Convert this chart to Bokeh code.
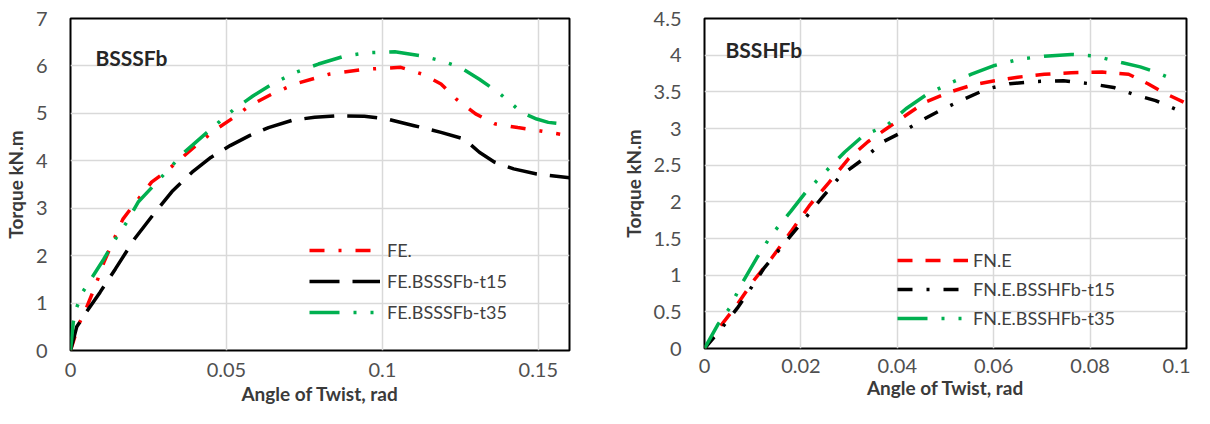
from bokeh.plotting import figure
from bokeh.layouts import row
from bokeh.models import Range1d, FixedTicker, Legend, LegendItem, Label
from bokeh.embed import file_html
from bokeh.resources import INLINE

# ---------------- Left chart data (BSSSFb) ----------------
left_title = "BSSSFb"
left_xticks = [0, 0.05, 0.1, 0.15]
left_xtick_labels = ["0", "0.05", "0.1", "0.15"]
left_yticks = [0, 1, 2, 3, 4, 5, 6, 7]
left_ytick_labels = ["0", "1", "2", "3", "4", "5", "6", "7"]

fe_x = [0, 0.0027, 0.005, 0.008, 0.0107, 0.0135, 0.0168, 0.0205, 0.026, 0.0303, 0.0353,
        0.0414, 0.0475, 0.0525, 0.0574, 0.0647, 0.072, 0.0832, 0.0942, 0.1059, 0.1127,
        0.1188, 0.1237, 0.1299, 0.136, 0.1434, 0.1507, 0.157]
fe_y = [0, 0.56, 0.88, 1.37, 1.86, 2.28, 2.77, 3.09, 3.55, 3.76, 4.04,
        4.39, 4.70, 4.92, 5.16, 5.41, 5.62, 5.83, 5.93, 5.97, 5.83,
        5.62, 5.30, 4.99, 4.78, 4.70, 4.63, 4.56]

t15_x = [0, 0.002, 0.005, 0.0095, 0.0144, 0.0205, 0.0267, 0.0328, 0.039, 0.045, 0.0512,
         0.0574, 0.0635, 0.0709, 0.0783, 0.0856, 0.0942, 0.1016, 0.1102, 0.1188, 0.1262,
         0.1311, 0.136, 0.1421, 0.1495, 0.16]
t15_y = [0, 0.5, 0.8, 1.23, 1.72, 2.35, 2.88, 3.37, 3.76, 4.07, 4.32,
         4.53, 4.70, 4.85, 4.92, 4.95, 4.94, 4.88, 4.74, 4.60, 4.46,
         4.18, 3.97, 3.83, 3.72, 3.64]

t35_x = [0, 0.0009, 0.002, 0.0039, 0.007, 0.0107, 0.0144, 0.018, 0.0217, 0.0267, 0.0316,
         0.0365, 0.0426, 0.0475, 0.0525, 0.0586, 0.0647, 0.072, 0.0795, 0.088, 0.0954,
         0.104, 0.1127, 0.1188, 0.125, 0.1311, 0.1372, 0.141, 0.1446, 0.1495, 0.1532, 0.157]
t35_y = [0, 0.6, 0.91, 1.23, 1.55, 1.93, 2.35, 2.70, 3.13, 3.48, 3.83,
         4.18, 4.53, 4.81, 5.09, 5.37, 5.62, 5.86, 6.04, 6.21, 6.28,
         6.30, 6.21, 6.11, 5.97, 5.72, 5.44, 5.23, 5.02, 4.88, 4.81, 4.78]

# ---------------- Right chart data (BSSHFb) ----------------
right_title = "BSSHFb"
right_xticks = [0, 0.02, 0.04, 0.06, 0.08, 0.1]
right_xtick_labels = ["0", "0.02", "0.04", "0.06", "0.08", "0.1"]
right_yticks = [0, 0.5, 1, 1.5, 2, 2.5, 3, 3.5, 4, 4.5]
right_ytick_labels = ["0", "0.5", "1", "1.5", "2", "2.5", "3", "3.5", "4", "4.5"]

fne_x = [0, 0.0036, 0.0068, 0.01, 0.0139, 0.0179, 0.0219, 0.0259, 0.0299, 0.0339, 0.0378,
         0.0418, 0.0458, 0.0506, 0.0554, 0.0602, 0.065, 0.0705, 0.0761, 0.0825, 0.088,
         0.092, 0.0952, 0.1]
fne_y = [0, 0.33, 0.60, 0.91, 1.23, 1.59, 1.96, 2.27, 2.59, 2.82, 3.00,
         3.18, 3.36, 3.49, 3.59, 3.65, 3.70, 3.74, 3.76, 3.77, 3.74,
         3.61, 3.49, 3.34]

h15_x = [0, 0.0036, 0.0068, 0.0092, 0.0124, 0.0163, 0.0203, 0.0243, 0.0283, 0.0331, 0.0371,
         0.041, 0.045, 0.049, 0.0538, 0.0586, 0.0633, 0.0681, 0.0745, 0.0801, 0.0849,
         0.0888, 0.0936, 0.0968, 0.1]
h15_y = [0, 0.28, 0.55, 0.78, 1.10, 1.41, 1.73, 2.05, 2.36, 2.59, 2.82,
         2.95, 3.11, 3.25, 3.40, 3.54, 3.61, 3.64, 3.65, 3.61, 3.56,
         3.47, 3.38, 3.29, 3.20]

h35_x = [0, 0.0028, 0.0052, 0.0076, 0.0108, 0.0139, 0.0179, 0.0211, 0.0251, 0.0291, 0.0331,
         0.0378, 0.0418, 0.0458, 0.0506, 0.0554, 0.0602, 0.0657, 0.0713, 0.0761, 0.0809,
         0.0865, 0.0904, 0.0936, 0.0972]
h35_y = [0, 0.33, 0.55, 0.87, 1.23, 1.55, 1.87, 2.14, 2.41, 2.68, 2.91,
         3.04, 3.27, 3.45, 3.61, 3.74, 3.86, 3.95, 3.99, 4.01, 3.99,
         3.90, 3.84, 3.77, 3.67]

FONT = "Lato"
RED = "#FF0000"
BLACK = "#000000"
GREEN = "#00B050"


def style(p, xticks, xlabels, yticks, ylabels, xstand, xtitle_stand, ytitle_stand):
    p.outline_line_color = "black"
    p.outline_line_width = 2
    p.xgrid.ticker = FixedTicker(ticks=xticks)
    p.ygrid.ticker = FixedTicker(ticks=yticks)
    for g in (p.xgrid[0], p.ygrid[0]):
        g.grid_line_color = "#d9d9d9"
        g.grid_line_width = 1.5
    p.xaxis.ticker = FixedTicker(ticks=xticks)
    p.yaxis.ticker = FixedTicker(ticks=yticks)
    p.xaxis.major_label_overrides = {t: l for t, l in zip(xticks, xlabels)}
    p.yaxis.major_label_overrides = {t: l for t, l in zip(yticks, ylabels)}
    for ax in (p.xaxis[0], p.yaxis[0]):
        ax.axis_line_color = None
        ax.major_tick_line_color = None
        ax.minor_tick_line_color = None
        ax.major_label_text_font = FONT
        ax.major_label_text_font_size = "20px"
        ax.major_label_text_color = "#505050"
        ax.axis_label_text_font = FONT
        ax.axis_label_text_font_size = "19px"
        ax.axis_label_text_font_style = "bold"
        ax.axis_label_text_color = "#3a3a3a"
    p.xaxis.axis_label = "Angle of Twist, rad"
    p.yaxis.axis_label = "Torque kN.m"
    p.xaxis.major_label_standoff = xstand
    p.xaxis.axis_label_standoff = xtitle_stand
    p.yaxis.major_label_standoff = 17
    p.yaxis.axis_label_standoff = ytitle_stand


# ---------------- Left figure ----------------
p1 = figure(frame_width=499, frame_height=332, output_backend="svg", toolbar_location=None,
            x_range=Range1d(0, 0.16), y_range=Range1d(0, 7),
            min_border_left=62, min_border_right=39, min_border_top=12, min_border_bottom=60)
style(p1, left_xticks, left_xtick_labels, left_yticks, left_ytick_labels, 6, 2, 6)

r1 = p1.line(fe_x, fe_y, line_color=RED, line_width=3.5, line_dash="15 14 3 14")
r2 = p1.line(t15_x, t15_y, line_color=BLACK, line_width=3.5, line_dash="30 13")
r3 = p1.line(t35_x, t35_y, line_color=GREEN, line_width=3.5, line_dash="30 14 3 14 3 14")

leg1 = Legend(items=[LegendItem(label="FE.", renderers=[r1]),
                     LegendItem(label="FE.BSSSFb-t15", renderers=[r2]),
                     LegendItem(label="FE.BSSSFb-t35", renderers=[r3])],
              location=(239, 26), glyph_width=71, glyph_height=24, spacing=7,
              label_standoff=7, padding=0, margin=0,
              background_fill_alpha=0, border_line_alpha=0,
              label_text_font=FONT, label_text_font_size="18px", label_text_color="#404040")
p1.add_layout(leg1, "center")
p1.add_layout(Label(x=0.008, y=6.18, text=left_title, text_font=FONT, text_font_size="21px",
                    text_font_style="bold", text_color="#262626", text_baseline="alphabetic"))

# ---------------- Right figure ----------------
p2 = figure(frame_width=482, frame_height=330, output_backend="svg", toolbar_location=None,
            x_range=Range1d(0, 0.1), y_range=Range1d(0, 4.5),
            min_border_left=96, min_border_right=4, min_border_top=18, min_border_bottom=56)
style(p2, right_xticks, right_xtick_labels, right_yticks, right_ytick_labels, 4, 0, 6)

s1 = p2.line(fne_x, fne_y, line_color=RED, line_width=3.5, line_dash="15 13")
s2 = p2.line(h15_x, h15_y, line_color=BLACK, line_width=3.5, line_dash="15 14 3 14")
s3 = p2.line(h35_x, h35_y, line_color=GREEN, line_width=3.5, line_dash="30 14 3 14 3 14")

leg2 = Legend(items=[LegendItem(label="FN.E", renderers=[s1]),
                     LegendItem(label="FN.E.BSSHFb-t15", renderers=[s2]),
                     LegendItem(label="FN.E.BSSHFb-t35", renderers=[s3])],
              location=(193, 19), glyph_width=71, glyph_height=22, spacing=7,
              label_standoff=5, padding=0, margin=0,
              background_fill_alpha=0, border_line_alpha=0,
              label_text_font=FONT, label_text_font_size="18px", label_text_color="#404040")
p2.add_layout(leg2, "center")
p2.add_layout(Label(x=0.00436, y=4.08, text=right_title, text_font=FONT, text_font_size="21px",
                    text_font_style="bold", text_color="#262626", text_baseline="alphabetic"))

layout = row(p1, p2)
open("out.html", "w").write(file_html(layout, INLINE))
